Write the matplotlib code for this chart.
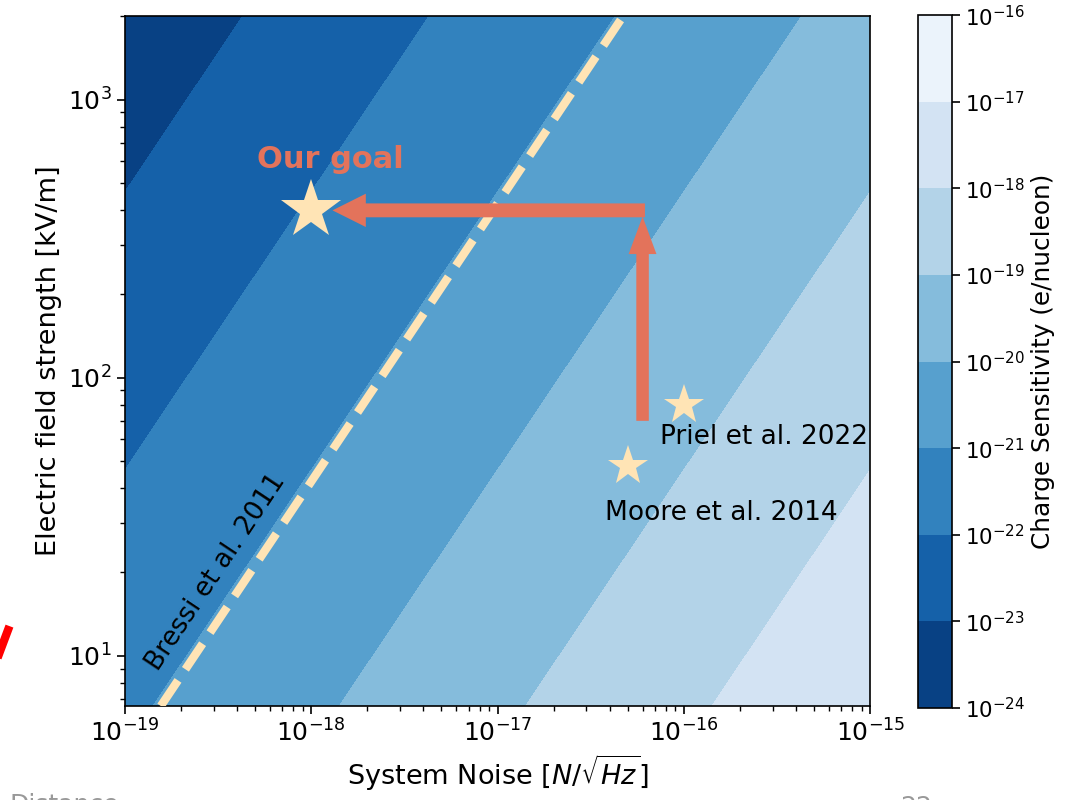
import numpy as np
import matplotlib
matplotlib.use("Agg")
import matplotlib.pyplot as plt
from matplotlib.colors import LogNorm
from matplotlib.lines import Line2D

# ---- parameters ----
E_CHARGE = 1.602e-19          # C
N_NUCLEONS = 1.34e17          # nucleons in the levitated particle
noise_range = (1e-19, 1e-15)  # N/sqrt(Hz)
field_range = (6.6, 2000.0)   # kV/m
levels_exp = np.arange(-24, -15)

# literature / target points
point_names = ["Our goal", "Priel et al. 2022", "Moore et al. 2014"]
point_noise = [1e-18, 1e-16, 5e-17]
point_field = [400.0, 80.0, 48.0]

# Bressi et al. 2011 sensitivity line
bressi_sensitivity = 1.1e-21

# improvement path: raise the field, then lower the noise
path_noise = [6e-17, 6e-17, 1.3e-18]
path_field = [70.0, 380.0, 400.0]

STAR = "#ffe4b5"
ARROW = "#e3735b"


def sensitivity(noise, field_kv):
    return noise / (field_kv * 1e3 * E_CHARGE * N_NUCLEONS)


noise = np.logspace(np.log10(noise_range[0]), np.log10(noise_range[1]), 400)
field = np.logspace(np.log10(field_range[0]), np.log10(field_range[1]), 400)
NN, EE = np.meshgrid(noise, field)
S = sensitivity(NN, EE)

fig = plt.figure(figsize=(10.77, 8.0), dpi=100)
ax = fig.add_axes([0.116, 0.1175, 0.692, 0.8625])
cax = fig.add_axes([0.852, 0.115, 0.032, 0.866])

levels = 10.0 ** levels_exp
cf = ax.contourf(NN, EE, S, levels=levels, norm=LogNorm(levels[0], levels[-1]),
                 cmap="Blues_r")
ax.set_xscale("log")
ax.set_yscale("log")
ax.set_xlim(*noise_range)
ax.set_ylim(*field_range)

# Bressi line of constant sensitivity
bressi_noise = bressi_sensitivity * field * 1e3 * E_CHARGE * N_NUCLEONS
ax.plot(bressi_noise, field, ls="--", lw=6, color=STAR, zorder=3)
ax.text(3.1e-19, 19.9, "Bressi et al. 2011", rotation=56.3, fontsize=19,
        ha="center", va="center", rotation_mode="anchor")

# arrows
ax.annotate("", xy=(path_noise[1], path_field[1]), xytext=(path_noise[0], path_field[0]),
            arrowprops=dict(width=9, headwidth=20, headlength=27, shrink=0,
                            color=ARROW, lw=0), zorder=4)
ax.annotate("", xy=(path_noise[2], path_field[2]), xytext=(path_noise[1] * 1.03, path_field[2]),
            arrowprops=dict(width=10, headwidth=24, headlength=24, shrink=0,
                            color=ARROW, lw=0), zorder=4)

# stars
ax.plot(point_noise[0], point_field[0], marker="*", ms=45, color=STAR, mew=0, zorder=5)
ax.plot(point_noise[1:], point_field[1:], ls="none", marker="*", ms=30, color=STAR,
        mew=0, zorder=5)

ax.text(1.27e-18, 608, point_names[0], color=ARROW,
        fontsize=22, fontweight="bold", ha="center", va="center")
ax.text(7.4e-17, 61.4, point_names[1], fontsize=19, ha="left", va="center")
ax.text(1.59e-16, 32.7, point_names[2], fontsize=19, ha="center", va="center")

ax.set_xlabel(r"System Noise [$N/\sqrt{Hz}$]", fontsize=19.5)
ax.set_ylabel("Electric field strength [kV/m]", fontsize=19.5)
ax.tick_params(which="major", labelsize=18, length=6, width=1.2)
ax.tick_params(which="minor", length=3.5, width=1.0)
for sp in ax.spines.values():
    sp.set_linewidth(1.2)

cb = fig.colorbar(cf, cax=cax, ticks=levels)
cb.set_label("Charge Sensitivity (e/nucleon)", fontsize=17.8)
cb.ax.tick_params(labelsize=15.4, length=6, width=1.2)
cb.ax.minorticks_off()
cb.outline.set_linewidth(1.2)

# slide remnants around the figure
fig.add_artist(Line2D([8 / 1077, -4 / 1077], [1 - 630 / 800, 1 - 662 / 800], color="red",
                      lw=6, transform=fig.transFigure))
fig.text(10 / 1077, 1 - 793 / 800, "Distance", color="#999999", fontsize=18,
         ha="left", va="top")
fig.text(900 / 1077, 1 - 795 / 800, "22", color="#999999", fontsize=18,
         ha="left", va="top")

fig.savefig("out.png", dpi=100)
